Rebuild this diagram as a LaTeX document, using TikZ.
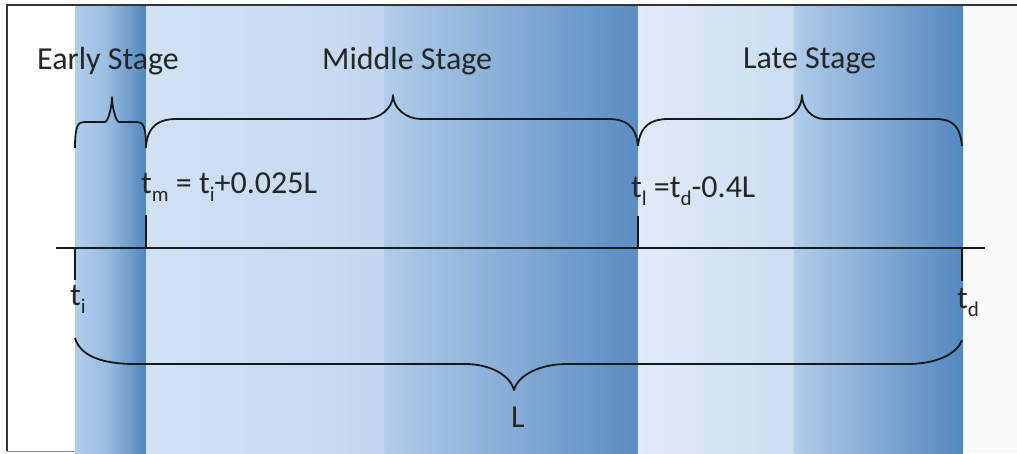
\documentclass[tikz,border=0pt]{standalone}
\usepackage{fontspec}
\setmainfont{Carlito}
\newcommand{\sbs}[1]{\raisebox{-0.25em}{\fontsize{21}{21}\selectfont #1}}
\begin{document}
\begin{tikzpicture}[x=1pt,y=-1pt,
  lbl/.style={inner sep=0pt,anchor=base west,font=\fontsize{32}{38}\selectfont,text=black!85},
  ln/.style={line width=1.8pt,black!90},
  brc/.style={line width=1.8pt,black!90,line join=round}]
\useasboundingbox (0,0) rectangle (1017,453);
% background
\fill[white] (0,0) rectangle (1017,453);
\fill[black!2] (963,5) rectangle (1017,453);
\shade[left color={rgb,255:red,176;green,205;blue,235},right color={rgb,255:red,155;green,190;blue,226}] (75,5) rectangle (106,453);
\shade[left color={rgb,255:red,155;green,190;blue,226},right color={rgb,255:red,80;green,134;blue,190}] (105.5,5) rectangle (146,453);
\shade[left color={rgb,255:red,210;green,226;blue,245},right color={rgb,255:red,194;green,215;blue,240}] (146,5) rectangle (385,453);
\shade[left color={rgb,255:red,176;green,204;blue,234},right color={rgb,255:red,90;green,141;blue,194}] (384.5,5) rectangle (638,453);
\shade[left color={rgb,255:red,224;green,235;blue,248},right color={rgb,255:red,202;green,221;blue,242}] (638,5) rectangle (795,453);
\shade[left color={rgb,255:red,176;green,204;blue,234},right color={rgb,255:red,84;green,136;blue,190}] (794.5,5) rectangle (963,453);
% frame
\draw[line width=1.5pt,black!80] (1017,5) -- (7,5) -- (7,451);
\draw[line width=1pt,black!45] (7,451) -- (75,451);
% timeline
\coordinate (L0) at (56,248);
\coordinate (L1) at (985,248);
\coordinate (ti) at (75,248);
\coordinate (tm) at (146,248);
\coordinate (tl) at (638,248);
\coordinate (td) at (962,248);
\coordinate (tiE) at (75,280);
\coordinate (tmE) at (146,215);
\coordinate (tlE) at (638,216);
\coordinate (tdE) at (962,281);
\draw[ln] (L0) -- (L1);
\draw[ln] (ti) -- (tiE);
\draw[ln] (tm) -- (tmE);
\draw[ln] (tl) -- (tlE);
\draw[ln] (td) -- (tdE);
% braces
\draw[brc] (75,148) .. controls (75,126) and (78,122) .. (84,122) -- (105,122)
  .. controls (108,122) and (112,107) .. (112,97) .. controls (112,107) and (116,122) .. (119,122)
  -- (137,122) .. controls (143,122) and (146,126) .. (146,148);
\draw[brc] (146,146) .. controls (148,125) and (160,119) .. (176,119) -- (365,119)
  .. controls (380,119) and (393,108) .. (393,95) .. controls (393,108) and (406,119) .. (421,119)
  -- (608,119) .. controls (625,119) and (636,125) .. (638,146);
\draw[brc] (638,146) .. controls (640,125) and (652,119) .. (668,119) -- (780,119)
  .. controls (792,119) and (802,108) .. (802,95) .. controls (802,108) and (812,119) .. (824,119)
  -- (935,119) .. controls (952,119) and (960,125) .. (962,146);
\draw[brc] (75,338) .. controls (80,355) and (100,364) .. (135,364) -- (465,364)
  .. controls (490,364) and (510,375) .. (514,390) .. controls (518,375) and (540,364) .. (567,364)
  -- (907,364) .. controls (940,364) and (958,352) .. (962,340);
% labels
\node[lbl] (early) at (37,69) {Early Stage};
\node[lbl] (middle) at (322,69) {Middle Stage};
\node[lbl] (late) at (743,68) {Late Stage};
\node[lbl] (tmlab) at (141,193) {t\sbs{m} = t\sbs{i}+0.025L};
\node[lbl] (tllab) at (631,197) {t\sbs{l} =t\sbs{d}-0.4L};
\node[lbl] (tilab) at (70,305) {t\sbs{i}};
\node[lbl] (tdlab) at (957,308) {t\sbs{d}};
\node[lbl] (Llab) at (511,427) {L};
\end{tikzpicture}
\end{document}
